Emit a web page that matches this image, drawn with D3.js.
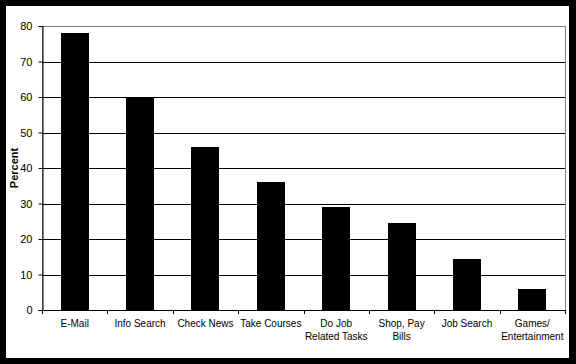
<!DOCTYPE html>
<html>
<head>
<meta charset="utf-8">
<script src="https://cdn.jsdelivr.net/npm/d3@7"></script>
<style>
  body { margin: 0; background: #fff; }
  svg { display: block; }
  text { font-family: "Liberation Sans", Arial, sans-serif; font-size: 10px; fill: #000; }
</style>
</head>
<body>
<script>
// data
var categories = ["E-Mail", "Info Search", "Check News", "Take Courses", "Do Job|Related Tasks", "Shop, Pay|Bills", "Job Search", "Games/|Entertainment"];
var percents = [78, 60, 46, 36, 29, 24.5, 14.5, 6];
var yTicks = [0, 10, 20, 30, 40, 50, 60, 70, 80];

var W = 576, H = 364;
var margin = {top: 26, right: 11, bottom: 54, left: 42},
    width = W - margin.left - margin.right,
    height = H - margin.top - margin.bottom;

const svg = d3.select("body").append("svg")
    .attr("width", W).attr("height", H);

// outer black frame
svg.append("rect").attr("x", 0).attr("y", 0).attr("width", W).attr("height", H).attr("fill", "#000");
svg.append("rect").attr("x", 6).attr("y", 6).attr("width", W - 13).attr("height", H - 12).attr("fill", "#fff");

const g = svg.append("g").attr("transform", `translate(${margin.left}, ${margin.top})`);

var x = d3.scaleBand().domain(categories).range([0, width]).paddingInner(0.57).paddingOuter(0.285);
var xb = d3.scaleBand().domain(categories).range([0, width]);
var y = d3.scaleLinear().domain([0, 80]).range([height, 0]);

// plot border (gray)
g.append("rect").attr("x", 0.5).attr("y", 0.5).attr("width", width).attr("height", height)
    .attr("fill", "none").attr("stroke", "#808080");

// gridlines
g.selectAll(".grid").data(yTicks.filter(d => d > 0 && d < 80)).enter()
    .append("line")
    .attr("x1", 0).attr("x2", width)
    .attr("y1", d => Math.round(y(d)) + 0.5).attr("y2", d => Math.round(y(d)) + 0.5)
    .attr("stroke", "#000");

// bars
g.selectAll(".bar").data(percents).enter()
    .append("rect")
    .attr("x", (d, i) => Math.round(x(categories[i])))
    .attr("width", Math.round(x.bandwidth()))
    .attr("y", d => Math.round(y(d)))
    .attr("height", d => Math.round(height - y(d)) + 1)
    .attr("fill", "#000");

// y axis
var yAxis = g.append("g").attr("transform", "translate(0.5,0)")
    .call(d3.axisLeft(y).tickValues(yTicks).tickSize(4).tickPadding(6));
yAxis.select(".domain").attr("stroke", "#000");
yAxis.selectAll("text").style("font-size", "11px");

// x axis line and boundary ticks
g.append("line").attr("x1", 0).attr("x2", width)
    .attr("y1", height + 0.5).attr("y2", height + 0.5).attr("stroke", "#000");
var bounds = categories.map(c => xb(c)).concat([width]);
g.selectAll(".xt").data(bounds).enter()
    .append("line")
    .attr("x1", d => Math.round(d) + 0.5).attr("x2", d => Math.round(d) + 0.5)
    .attr("y1", height).attr("y2", height + 4)
    .attr("stroke", "#000");

// category labels (two lines where needed)
var lab = g.selectAll(".xl").data(categories).enter()
    .append("text")
    .attr("text-anchor", "middle")
    .attr("transform", d => `translate(${xb(d) + xb.bandwidth() / 2}, ${height + 17})`);
lab.each(function(d) {
    var parts = d.split("|");
    var t = d3.select(this);
    parts.forEach((p, k) => {
        t.append("tspan").attr("x", 0).attr("dy", k === 0 ? 0 : 13).text(p);
    });
});

// y axis title
svg.append("text")
    .attr("transform", `translate(18, ${margin.top + height / 2}) rotate(-90)`)
    .attr("text-anchor", "middle")
    .style("font-weight", "bold")
    .style("font-size", "11px")
    .text("Percent");
</script>
</body>
</html>
